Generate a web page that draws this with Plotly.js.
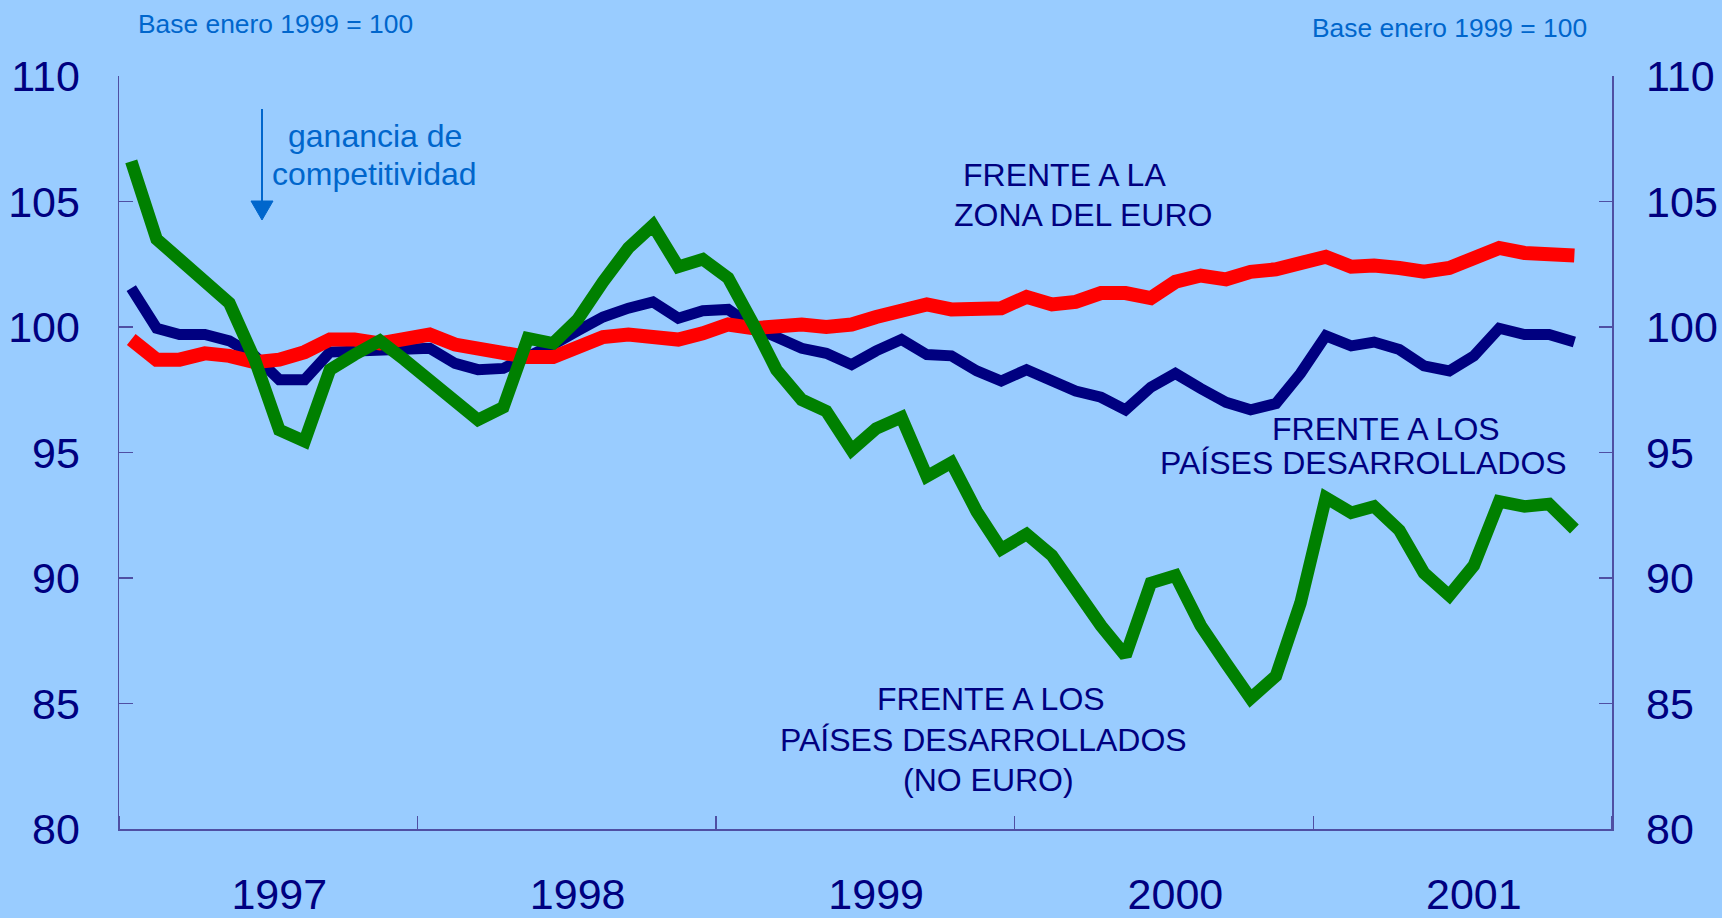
<!DOCTYPE html>
<html>
<head>
<meta charset="utf-8">
<script src="https://cdn.plot.ly/plotly-3.0.1.min.js"></script>
<style>
html,body{margin:0;padding:0;background:#99CCFF;}
#chart{width:1722px;height:918px;}
</style>
</head>
<body>
<div id="chart"></div>
<script>
// ---- data (monthly, January 1997 onwards; base enero 1999 = 100) ----
const startYear = 1997;
const yearLabels = ['1997', '1998', '1999', '2000', '2001'];
const yTickValues = [80, 85, 90, 95, 100, 105, 110];

const frenteZonaEuro = [
  99.5, 98.7, 98.7, 98.95, 98.85, 98.6, 98.7, 99.0, 99.5, 99.5,
  99.35, 99.5, 99.7, 99.3, 99.15, 99.0, 98.8, 98.8, 99.25, 99.6,
  99.7, 99.65, 99.5, 99.75, 100.1, 99.95, 100.0, 100.1, 100.0, 100.1,
  100.4, 100.7, 100.9, 100.7, 100.7, 100.75, 101.2, 100.9, 101.0, 101.35,
  101.35, 101.15, 101.8, 102.05, 101.9, 102.2, 102.3, 102.55, 102.8, 102.4,
  102.45, 102.35, 102.2, 102.35, 102.8, 103.15, 102.95, 102.85, 102.85
];
const frentePaisesDesarrollados = [
  101.55, 99.95, 99.7, 99.7, 99.45, 98.85, 97.9, 97.9, 99.0, 99.05,
  99.15, 99.1, 99.15, 98.55, 98.3, 98.35, 98.8, 99.3, 99.85, 100.4,
  100.75, 101.0, 100.35, 100.65, 100.7, 100.0, 99.6, 99.15, 98.95, 98.5,
  99.05, 99.5, 98.9, 98.85, 98.25, 97.85, 98.3, 97.85, 97.45, 97.2,
  96.7, 97.6, 98.15, 97.55, 97.0, 96.7, 96.95, 98.15, 99.65, 99.25,
  99.4, 99.1, 98.45, 98.25, 98.85, 99.95, 99.7, 99.7, 99.4
];
const frentePaisesNoEuro = [
  106.6, 103.5, 102.7, 101.8, 100.95, 98.7, 95.9, 95.45, 98.3, 98.9,
  99.45, 98.7, 97.9, 97.1, 96.3, 96.8, 99.55, 99.35, 100.3, 101.8,
  103.15, 104.05, 102.4, 102.7, 101.95, 100.1, 98.3, 97.1, 96.65, 95.1,
  95.95, 96.4, 94.05, 94.6, 92.65, 91.15, 91.75, 90.9, 89.5, 88.1,
  86.9, 89.8, 90.1, 88.1, 86.6, 85.2, 86.1, 89.0, 93.2, 92.6,
  92.85, 91.9, 90.2, 89.3, 90.5, 93.05, 92.85, 92.95, 91.95
];

// month categories as mid-month dates
function monthDate(i) {
  const y = startYear + Math.floor(i / 12);
  const m = (i % 12) + 1;
  return y + '-' + String(m).padStart(2, '0') + '-16';
}
const months = frenteZonaEuro.map((_, i) => monthDate(i));
const yearBounds = yearLabels.map(y => y + '-01-01').concat([(+yearLabels[yearLabels.length - 1] + 1) + '-01-01']);
const yearCentres = yearLabels.map(y => y + '-07-16');

// ---- styling ----
const FONT = 'Liberation Sans, Arial, Helvetica, sans-serif';
const NAVY = '#000080';
const LIGHT = '#0066CC';
const AXIS = '#4F4FA3';
const BG = '#99CCFF';

const PL = 119, PR = 1612, PT = 76, PB = 829;
const px = x => (x - PL) / (PR - PL);
const py = y => (PB - y) / (PB - PT);

const traces = [
  {x: months, y: frentePaisesDesarrollados, type: 'scatter', mode: 'lines',
   line: {color: NAVY, width: 11}, hoverinfo: 'skip'},
  {x: months, y: frenteZonaEuro, type: 'scatter', mode: 'lines',
   line: {color: '#FF0000', width: 14}, hoverinfo: 'skip'},
  {x: months, y: frentePaisesNoEuro, type: 'scatter', mode: 'lines', yaxis: 'y2',
   line: {color: '#008000', width: 12.5}, hoverinfo: 'skip'}
];

function label(text, x, y, size, color) {
  return {text: text, xref: 'paper', yref: 'paper', x: px(x), y: py(y),
    xanchor: 'center', yanchor: 'middle', showarrow: false, borderpad: 0,
    font: {family: FONT, size: size, color: color}};
}

const layout = {
  width: 1722, height: 918,
  margin: {l: PL, r: 1722 - PR, t: PT, b: 918 - PB, pad: 0},
  paper_bgcolor: BG, plot_bgcolor: BG,
  showlegend: false,
  font: {family: FONT, color: NAVY},
  xaxis: {
    type: 'date', range: [yearBounds[0], yearBounds[yearBounds.length - 1]],
    tickmode: 'array', tickvals: yearCentres, ticktext: yearLabels,
    ticks: '', showgrid: false, zeroline: false,
    showline: true, linecolor: AXIS, linewidth: 1.5,
    tickfont: {family: FONT, size: 43, color: NAVY},
    ticklabelstandoff: 27,
    minor: {tickmode: 'array', tickvals: yearBounds, ticks: 'inside', ticklen: 13,
            tickwidth: 1.5, tickcolor: AXIS, showgrid: false},
    fixedrange: true
  },
  yaxis: {
    range: [80, 110], tickmode: 'array', tickvals: yTickValues,
    ticks: 'inside', ticklen: 14, tickwidth: 1.5, tickcolor: AXIS,
    showline: true, linecolor: AXIS, linewidth: 1.5,
    showgrid: false, zeroline: false,
    tickfont: {family: FONT, size: 43, color: NAVY},
    ticklabelstandoff: 29, fixedrange: true
  },
  yaxis2: {
    range: [80, 110], overlaying: 'y', side: 'right', tickmode: 'array', tickvals: yTickValues,
    ticks: 'inside', ticklen: 13, tickwidth: 1.5, tickcolor: AXIS,
    showline: true, linecolor: AXIS, linewidth: 1.5,
    showgrid: false, zeroline: false,
    tickfont: {family: FONT, size: 43, color: NAVY},
    ticklabelstandoff: 24, fixedrange: true
  },
  annotations: [
    label('Base enero 1999 = 100', 275.5, 23.5, 26.4, LIGHT),
    label('Base enero 1999 = 100', 1449.5, 28, 26.4, LIGHT),
    label('ganancia de', 375, 136, 32, LIGHT),
    label('competitividad', 374.5, 174, 32, LIGHT),
    label('FRENTE A LA', 1064, 175, 32, NAVY),
    label('ZONA DEL EURO', 1082.5, 215, 32, NAVY),
    label('FRENTE A LOS', 1385.5, 429, 32, NAVY),
    label('PAÍSES DESARROLLADOS', 1363, 462.5, 32, NAVY),
    label('FRENTE A LOS', 990.5, 699, 32, NAVY),
    label('PAÍSES DESARROLLADOS', 983.5, 739.5, 32, NAVY),
    label('(NO EURO)', 988.6, 779.5, 32, NAVY)
  ],
  shapes: [
    {type: 'line', xref: 'paper', yref: 'paper', x0: px(262), x1: px(262), y0: py(109), y1: py(204),
     line: {color: LIGHT, width: 2}},
    {type: 'path', xref: 'paper', yref: 'paper',
     path: 'M' + px(251) + ',' + py(201) + ' L' + px(273) + ',' + py(201) + ' L' + px(262) + ',' + py(220) + ' Z',
     fillcolor: LIGHT, line: {color: LIGHT, width: 1}}
  ]
};

Plotly.newPlot('chart', traces, layout, {displayModeBar: false, staticPlot: true});
</script>
</body>
</html>
